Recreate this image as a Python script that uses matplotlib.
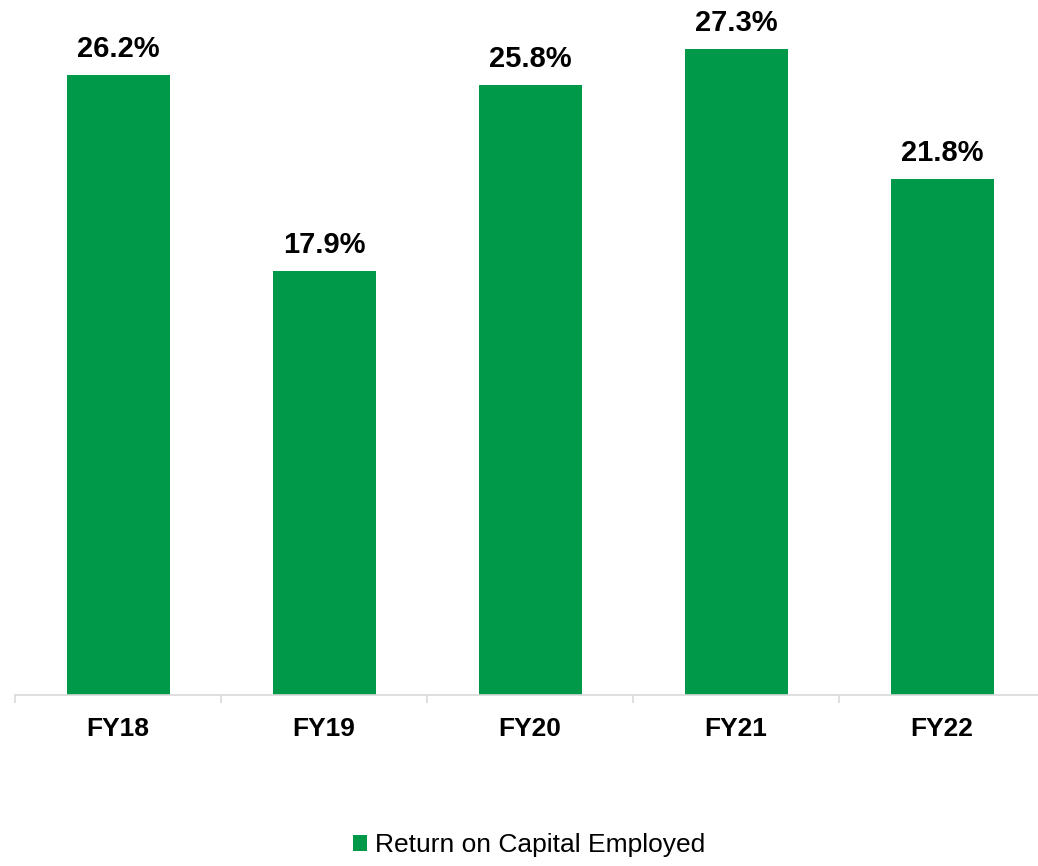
import matplotlib
matplotlib.use("Agg")
import matplotlib.pyplot as plt
import numpy as np

# chart data
years = ["FY18", "FY19", "FY20", "FY21", "FY22"]
roce = [26.2, 17.9, 25.8, 27.3, 21.8]
series_name = "Return on Capital Employed"

plt.rcParams['font.family'] = ['Liberation Sans', 'DejaVu Sans']

W, H = 1038, 866
fig = plt.figure(figsize=(W / 100, H / 100), dpi=100)

# axes placed in pixel terms: baseline at y=695, categories 206px wide starting at x=15
px_per_unit = 23.66
ax_left, ax_right = 15, 15 + 5 * 206
ax_bottom, ax_top = 695, 20
ax = fig.add_axes([ax_left / W, (H - ax_bottom) / H,
                   (ax_right - ax_left) / W, (ax_bottom - ax_top) / H])

green = '#009949'
x = np.arange(len(years))
bars = ax.bar(x, roce, width=0.5, color=green, label=series_name, zorder=2)

ax.set_xlim(-0.5, len(years) - 0.5)
ax.set_ylim(0, (ax_bottom - ax_top) / px_per_unit)

for xi, v in zip(x, roce):
    ax.annotate(f"{v:.1f}%", (xi, v), xytext=(0, 13), textcoords='offset points',
                ha='center', va='baseline', fontsize=21, fontweight='bold', color='black')

for side in ['top', 'right', 'left']:
    ax.spines[side].set_visible(False)
ax.spines['bottom'].set_color('#d9d9d9')
ax.spines['bottom'].set_linewidth(1.2)

ax.set_yticks([])
ax.set_xticks(x)
ax.set_xticklabels(years, fontsize=19, fontweight='bold')
ax.tick_params(axis='x', which='major', length=0, pad=15.6)
ax.set_xticks(np.arange(len(years) + 1) - 0.5, minor=True)
ax.tick_params(axis='x', which='minor', length=6, width=1.2, color='#d9d9d9')

fig.legend(handles=[bars], labels=[series_name], loc='center',
           bbox_to_anchor=(529 / W, (H - 845) / H),
           frameon=False, fontsize=19, handlelength=0.55, handleheight=0.55,
           handletextpad=0.3)

fig.savefig("out.png", dpi=100)
